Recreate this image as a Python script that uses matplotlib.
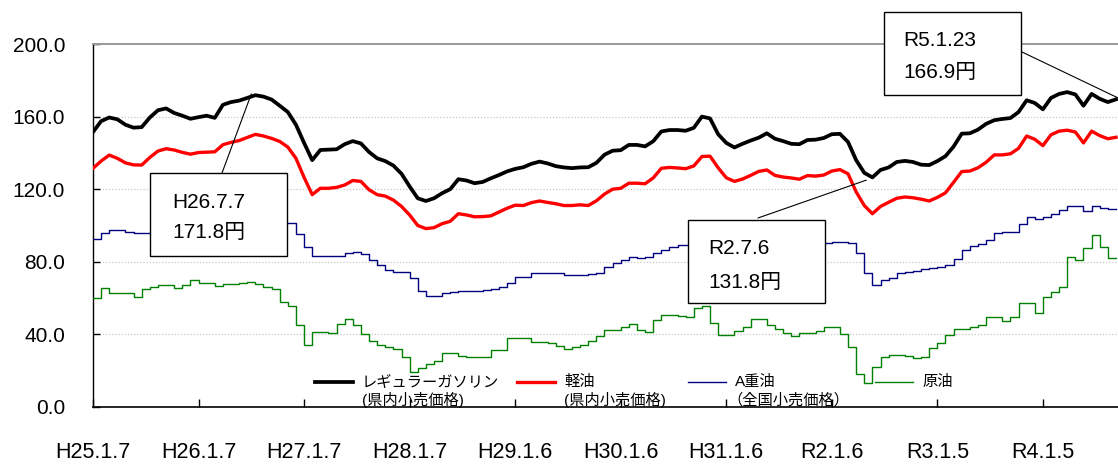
import matplotlib
matplotlib.use('Agg')
import matplotlib.pyplot as plt
import numpy as np
from matplotlib.patches import Rectangle
from matplotlib.lines import Line2D

plt.rcParams['font.family'] = ['Liberation Sans', 'Noto Sans CJK JP']

# ---- data (values read every 4 survey weeks starting H25.1.7) ----
gasoline = [151.5,157.5,159.5,158.5,155.5,153.9,154.2,159.5,163.5,164.5,
            162,160.5,158.8,159.7,160.5,159.3,166.5,168,168.8,170.3,
            171.8,171,169.4,166,162.5,155.5,145.5,136,141.6,141.8,
            142,144.8,146.5,145.2,140.5,137,135.5,133,128.5,121.5,
            115,113.5,115,117.8,120,125.5,124.8,123.3,124,126,
            127.8,129.8,131.2,132.1,134,135.2,134.2,132.7,132,131.6,
            132,132.1,134.5,139,141.2,141.5,144.4,144.4,143.6,146.4,
            151.8,152.6,152.6,152.2,153.8,160,159,150.3,145.5,143,
            145,146.8,148.4,150.8,147.8,146.5,145,144.8,147.1,147.3,
            148.2,150.3,150.5,146,136,129,126.5,130.6,132,135,
            135.6,135,133.5,133.3,135.5,138.2,143.5,150.6,150.8,152.8,
            156,158,158.7,159.2,162.5,169,167.5,164,170.3,172.5,
            173.5,172.2,166,172.5,169.8,168,169.5]
diesel = [131.5,135.5,138.8,137,134.5,133.4,133.3,137.5,141,142.3,
          141.6,140.3,139.3,140.2,140.4,140.6,144.5,145.8,146.8,148.5,
          150.2,149.3,148,146.3,143.2,137,126.5,117,120.5,120.5,
          121,122.3,124.8,124.3,119.7,117,116.2,114,110.5,105.8,
          100,98.3,98.8,101,102.3,106.5,105.8,104.8,104.9,105.3,
          107.4,109.5,111.2,111,112.6,113.5,112.7,112,111,111,
          111.4,111,113.6,117.3,120,120.5,123.3,123.3,123,126.2,
          131.5,132,131.7,131.3,132.8,138,138.2,131.8,126.3,124.3,
          125.6,127.6,129.8,130.6,127.6,126.7,126.2,125.5,127.5,127.2,
          127.8,130,130.8,128.5,118.5,111,106.5,110.5,112.8,115,
          115.7,115.3,114.5,113.5,115.5,118,123.8,129.7,130,131.8,
          134.8,138.9,138.9,139.5,142.5,149.3,147.5,144,150,152,
          152.5,151.5,145.5,152,149.5,147.8,148.6]
heavy_oil = [92.5,95.7,97.5,97.5,96.3,96,96,96,96.5,97,
             97,97.5,98,98,98.5,99,99.5,99.5,100,100,
             100.5,100.5,101,101.2,101.2,95.3,88.3,83,83.2,83.2,
             83.2,84.7,85.3,84.4,81,78.5,75.5,74.2,74.2,70.9,
             64,61,61.2,62.6,63.5,64.1,64.1,64.1,64.5,64.8,
             66,68.5,71.4,71.4,73.7,74,74,74,72.7,73,
             73,73.3,73.7,77,79.5,81,82.5,82,82.5,85,
             86.5,88.3,89.3,89.3,89.5,90,90.5,90.5,90,89.5,
             89.5,90,90,90.5,90.5,90,90,90.2,90.2,90.2,
             90.2,91.1,91.1,90.2,84.7,73.7,67,70,71,74,
             74.5,75.1,75.9,76.4,77,78.2,81.4,86.5,88.7,89.8,
             92,95.7,96.6,96.6,100.8,104.9,103.4,104.5,106.5,108.5,
             110.8,110.8,108.2,110.8,109.9,109.3,109.3]
crude = [60,65.4,62.6,62.6,62.6,60.8,64.8,66,67.2,67.2,
         65.5,67.2,70,68.2,68.2,66.8,67.5,67.5,68.5,69,
         68,66,64.8,58,55.7,45.2,34.2,41.5,41.2,40.6,
         46,48.3,45,40,36.5,34.2,33,31.8,27.7,19.5,
         21.3,23.7,25.5,29.9,29.9,28,27.7,27.7,27.7,31.4,
         31.4,37.8,37.8,37.8,36,36,35.1,33.5,31.8,33,
         34.2,36.5,39.1,42.4,42.4,44,45.7,42.4,41.5,48,
         50.7,50.7,50,49.7,54.4,55.7,46.5,39.7,39.7,42,
         44,48.3,48.7,45,42.8,40.5,39.1,40.6,40.6,42,
         44.2,44.2,40,33.2,18,13.4,22,27.7,28.6,28.6,
         28,26.8,27.5,32.3,35.1,39.7,42.8,42.8,44,45.2,
         49.8,49.8,47.6,49.8,57.5,57.5,52,60.8,63.5,66.3,
         82.8,81,87.4,94.8,88.3,81.9,81.9]

x_tick_labels = ['H25.1.7', 'H26.1.7', 'H27.1.7', 'H28.1.7', 'H29.1.6',
                 'H30.1.6', 'H31.1.6', 'R2.1.6', 'R3.1.5', 'R4.1.5']
y_ticks = [0, 40, 80, 120, 160, 200]

series_labels = [('レギュラーガソリン', '(県内小売価格)'),
                 ('軽油', '(県内小売価格)'),
                 ('A重油', '（全国小売価格）'),
                 ('原油', '')]

annotations = [('H26.7.7', '171.8円', 78, 172.5),
               ('R2.7.6', '131.8円', 381, 125.0),
               ('R5.1.23', '166.9円', 505, 170.3)]

# ---- figure ----
W, H = 1118, 466
fig = plt.figure(figsize=(W / 100, H / 100), dpi=100)
ax = fig.add_axes([93 / W, 59 / H, (W - 93) / W, 363 / H])

weeks = np.arange(len(gasoline)) * 4
colors = ['black', '#ff0000', '#000080', '#008000']
widths = [2.7, 2.4, 1.0, 1.0]

ax.plot(weeks, crude, color=colors[3], lw=widths[3], drawstyle='steps-post', zorder=3)
ax.plot(weeks, heavy_oil, color=colors[2], lw=widths[2], drawstyle='steps-post', zorder=3)
ax.plot(weeks, diesel, color=colors[1], lw=widths[1], solid_joinstyle='round', zorder=4)
ax.plot(weeks, gasoline, color=colors[0], lw=widths[0], solid_joinstyle='round', zorder=4)

ax.set_xlim(0, 505)
ax.set_ylim(0, 200)
ax.set_yticks(y_ticks)
ax.set_yticklabels([f'{v:.1f}' for v in y_ticks])
ax.set_xticks(np.arange(len(x_tick_labels)) * 52)
ax.set_xticklabels(x_tick_labels)
ax.tick_params(axis='y', direction='in', length=5, width=1, pad=20, labelsize=15)
ax.tick_params(axis='x', direction='in', length=6, width=1, pad=25, labelsize=15.5)
ax.spines['right'].set_visible(False)
ax.spines['top'].set_color('#999999')
ax.spines['top'].set_linewidth(1.4)
ax.spines['left'].set_linewidth(1.0)
ax.spines['bottom'].set_linewidth(1.2)
for v in y_ticks[1:-1]:
    ax.axhline(v, color='#c8c8c8', lw=0.9, ls=(0, (1, 1.5)), zorder=1)


def fx(px):
    return px / W


def fy(py):
    return (H - py) / H


# ---- legend (drawn manually to follow the original layout) ----
leg_x = [315, 517, 688, 875]
for (l1, l2), c, lw, x0 in zip(series_labels, colors, widths, leg_x):
    fig.add_artist(Line2D([fx(x0), fx(x0 + 38)], [fy(382), fy(382)],
                          color=c, lw=lw, transform=fig.transFigure, zorder=6))
    tx = x0 + 47
    fig.text(fx(tx), fy(382), l1, fontsize=11, va='center', ha='left', zorder=7)
    if l2:
        off = -8 if l2.startswith('（') else 0
        fig.text(fx(tx + off), fy(400), l2, fontsize=11, va='center', ha='left', zorder=7)

# ---- annotation boxes ----
boxes = [(150, 173, 137, 83, 172, (202, 233), (222, 173)),
         (688, 220, 137, 83, 708, (248, 282), (758, 218)),
         (884, 12, 137, 83, 903, (41, 73), (1022, 52))]
for (d, val, wx, wy), (bx, by, bw, bh, tx, (ty1, ty2), (sx, sy)) in zip(annotations, boxes):
    fig.add_artist(Rectangle((fx(bx), fy(by + bh)), bw / W, bh / H,
                             transform=fig.transFigure, facecolor='white',
                             edgecolor='black', lw=1.0, zorder=5))
    fig.text(fx(tx), fy(ty1), d, fontsize=15, va='center', ha='left', zorder=6)
    fig.text(fx(tx), fy(ty2), val, fontsize=15, va='center', ha='left', zorder=6)
    ax.annotate('', xy=(wx, wy), xycoords='data',
                xytext=(sx, H - sy), textcoords='figure pixels',
                arrowprops=dict(arrowstyle='-', color='black', lw=0.8,
                                shrinkA=0, shrinkB=0),
                annotation_clip=False, zorder=6)

fig.savefig('out.png', dpi=100)
